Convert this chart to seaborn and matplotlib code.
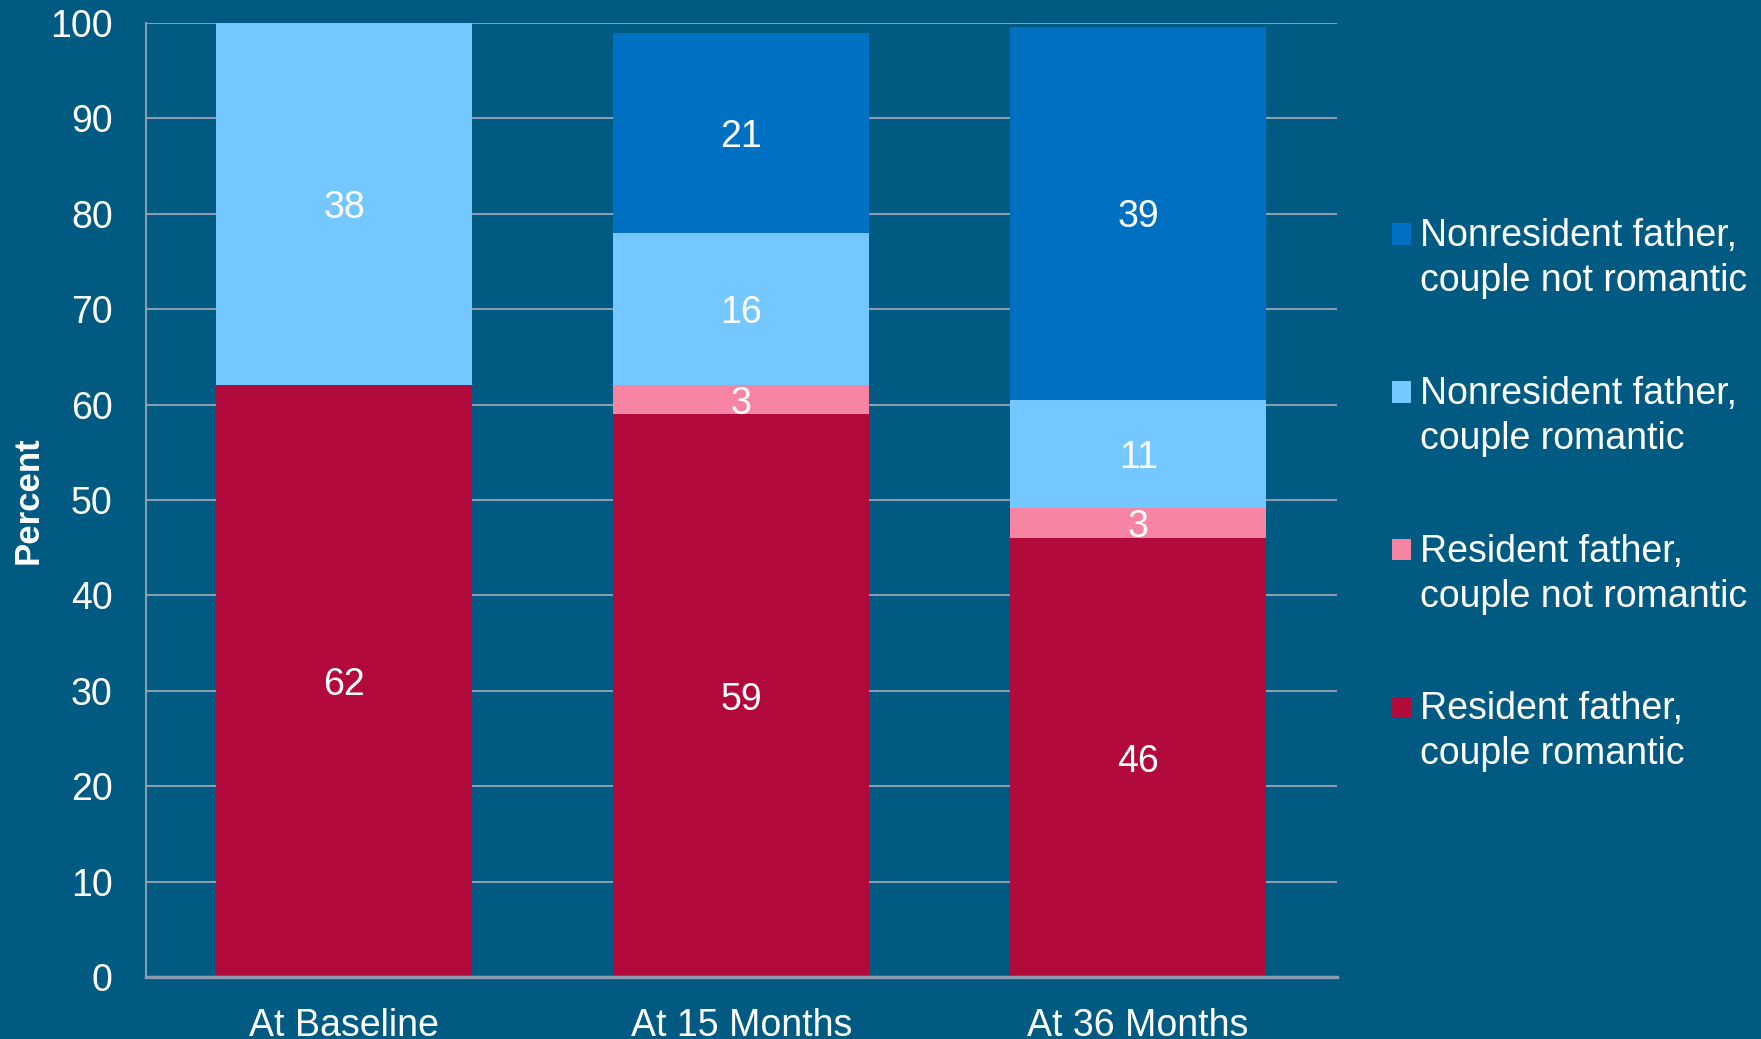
import numpy as np
import matplotlib
matplotlib.use("Agg")
import matplotlib.pyplot as plt
import seaborn as sns

categories = ["At Baseline", "At 15 Months", "At 36 Months"]
res_romantic = [62, 59, 46]
res_not_romantic = [0, 3, 3.2]
nonres_romantic = [38, 16, 11.3]
nonres_not_romantic = [0, 21, 39.1]

series_names = ["Resident father,\ncouple romantic",
                "Resident father,\ncouple not romantic",
                "Nonresident father,\ncouple romantic",
                "Nonresident father,\ncouple not romantic"]
series_vals = [res_romantic, res_not_romantic, nonres_romantic, nonres_not_romantic]
colors = ["#b20a3a", "#f784a2", "#74c8ff", "#0071c2"]

bg = "#005a82"
grid_col = "#8a9db0"

sns.set_style("white")
plt.rcParams["font.family"] = ["Liberation Sans", "DejaVu Sans"]

fig = plt.figure(figsize=(17.61, 10.39), dpi=100, facecolor=bg)
ax = fig.add_axes([0.0829, 0.0597, 0.759 - 0.0829, 0.9779 - 0.0597])
ax.set_facecolor(bg)

bottom = np.zeros(len(categories))
handles = []
for name, vals, c in zip(series_names, series_vals, colors):
    vals = np.array(vals, dtype=float)
    sns.barplot(x=categories, y=vals, bottom=bottom, color=c, width=0.645,
                saturation=1, errorbar=None, ax=ax, linewidth=0, label=name)
    cont = ax.containers[-1]
    labels = [f"{v:.0f}" if v > 0 else "" for v in vals]
    texts = ax.bar_label(cont, labels=labels, label_type="center", color="white", fontsize=27)
    for t in texts:
        t.xyann = (0, -3)
    handles.append(cont.patches[0])
    bottom += vals

ax.set_ylim(0, 100)
ax.set_xlim(-0.5, 2.5)
ax.set_yticks(range(0, 101, 10))
ax.yaxis.grid(True, color=grid_col, linewidth=1.5)
ax.set_axisbelow(True)
for s in ["top", "right"]:
    ax.spines[s].set_visible(False)
ax.spines["left"].set_color(grid_col)
ax.spines["left"].set_linewidth(1.5)
ax.spines["bottom"].set_color(grid_col)
ax.spines["bottom"].set_linewidth(2.5)
ax.tick_params(axis="y", length=0, pad=24, labelsize=27, labelcolor="white")
ax.tick_params(axis="x", length=0, pad=22.5, labelsize=27, labelcolor="white")
ax.set_xlabel("")
ax.set_ylabel("Percent", fontsize=25, fontweight="bold", color="white")
ax.yaxis.set_label_coords(-0.085, 0.5)

leg = ax.legend(handles[::-1], series_names[::-1], loc="center left",
                bbox_to_anchor=(1.034, 0.505), borderaxespad=0, frameon=False,
                fontsize=27, labelcolor="white", handlelength=0.5, handleheight=0.5,
                handletextpad=0.25, labelspacing=2.05)
for t in leg.get_texts():
    t.set_linespacing(1.32)
# put the square next to the first line of each label
for h in leg.legend_handles:
    h.set_y(h.get_y() + 18)

fig.savefig("out.png", facecolor=bg)
